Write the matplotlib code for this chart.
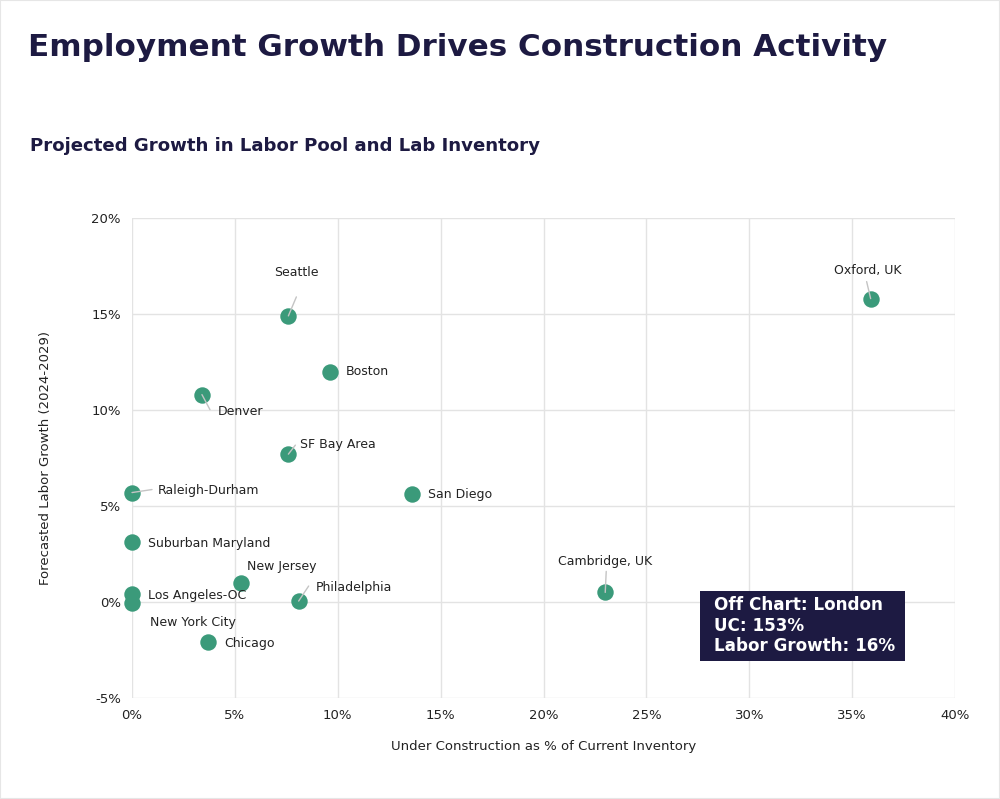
import matplotlib
matplotlib.use("Agg")
import matplotlib.pyplot as plt
from matplotlib.ticker import FuncFormatter, MultipleLocator

plt.rcParams['font.family'] = ['DejaVu Sans']

markets = ["Seattle", "Boston", "Denver", "SF Bay Area", "Raleigh-Durham", "San Diego",
           "Suburban Maryland", "New Jersey", "Los Angeles-OC", "New York City",
           "Philadelphia", "Chicago", "Cambridge, UK", "Oxford, UK"]
under_construction = [7.6, 9.6, 3.4, 7.6, 0.0, 13.6, 0.0, 5.3, 0.0, 0.0, 8.1, 3.7, 23.0, 35.9]
labor_growth = [14.9, 12.0, 10.8, 7.7, 5.7, 5.6, 3.1, 1.0, 0.4, -0.05, 0.05, -2.1, 0.5, 15.8]

# label offset (pixels), alignment, leader end offset (pixels) or None
label_layout = {
    "Seattle": ((8, 43), "center", (8, 19)),
    "Boston": ((16, 0), "left", None),
    "Denver": ((16, -17), "left", (8, -15)),
    "SF Bay Area": ((12, 10), "left", (7, 9)),
    "Raleigh-Durham": ((26, 2), "left", (20, 3)),
    "San Diego": ((16, 0), "left", None),
    "Suburban Maryland": ((16, -1), "left", None),
    "New Jersey": ((6, 16), "left", None),
    "Los Angeles-OC": ((16, -1), "left", None),
    "New York City": ((18, -20), "left", None),
    "Philadelphia": ((17, 14), "left", (10, 15)),
    "Chicago": ((16, -1), "left", None),
    "Cambridge, UK": ((0, 31), "center", (1, 21)),
    "Oxford, UK": ((-3, 28), "center", (-4, 17)),
}

navy = "#1d1a42"
green = "#3b9a7a"

fig = plt.figure(figsize=(10, 7.99), dpi=100)
ax = fig.add_axes([0.132, 0.1264, 0.823, 0.6008])

ax.scatter(under_construction, labor_growth, s=140, color=green, zorder=3,
           linewidths=0, clip_on=False)

for name, x, y in zip(markets, under_construction, labor_growth):
    (dx, dy), ha, leader = label_layout[name]
    if leader is not None:
        ax.annotate("", (x, y), xytext=leader, textcoords="offset pixels",
                    arrowprops=dict(arrowstyle="-", color="#c4c4c4", lw=1,
                                    shrinkA=0, shrinkB=0), zorder=4)
    ax.annotate(name, (x, y), xytext=(dx, dy), textcoords="offset pixels",
                ha=ha, va="center", fontsize=9, color="#222222", zorder=4)

ax.set_xlim(0, 40)
ax.set_ylim(-5, 20)
ax.xaxis.set_major_locator(MultipleLocator(5))
ax.yaxis.set_major_locator(MultipleLocator(5))
ax.xaxis.set_major_formatter(FuncFormatter(lambda v, p: f"{v:.0f}%"))
ax.yaxis.set_major_formatter(FuncFormatter(lambda v, p: f"{v:.0f}%"))
ax.grid(True, color="#e3e3e3", lw=1)
ax.set_axisbelow(True)
for s in ax.spines.values():
    s.set_visible(False)
ax.tick_params(length=0, labelsize=9.5, labelcolor="#222222", pad=8)

ax.set_xlabel("Under Construction as % of Current Inventory", fontsize=9.5,
              color="#222222", labelpad=13)
ax.set_ylabel("Forecasted Labor Growth (2024-2029)", fontsize=9.5,
              color="#222222", labelpad=28)

box = plt.Rectangle((0.690, 0.0771), 0.249, 0.1458, transform=ax.transAxes,
                    fc=navy, ec="none", zorder=5)
ax.add_patch(box)
ax.text(0.7072, 0.151, "Off Chart: London\nUC: 153%\nLabor Growth: 16%",
        transform=ax.transAxes, ha="left", va="center", fontsize=12.1,
        fontweight="bold", color="white", linespacing=1.17, zorder=6)

fig.text(0.028, 0.94, "Employment Growth Drives Construction Activity",
         fontsize=22.3, fontweight="bold", color=navy, ha="left", va="center")
fig.text(0.030, 0.817, "Projected Growth in Labor Pool and Lab Inventory",
         fontsize=13.1, fontweight="bold", color=navy, ha="left", va="center")

border = plt.Rectangle((0, 0), 1, 1, transform=fig.transFigure, fill=False,
                       ec="#e6e6e6", lw=1.5)
fig.patches.append(border)

fig.savefig("out.png", dpi=100)
